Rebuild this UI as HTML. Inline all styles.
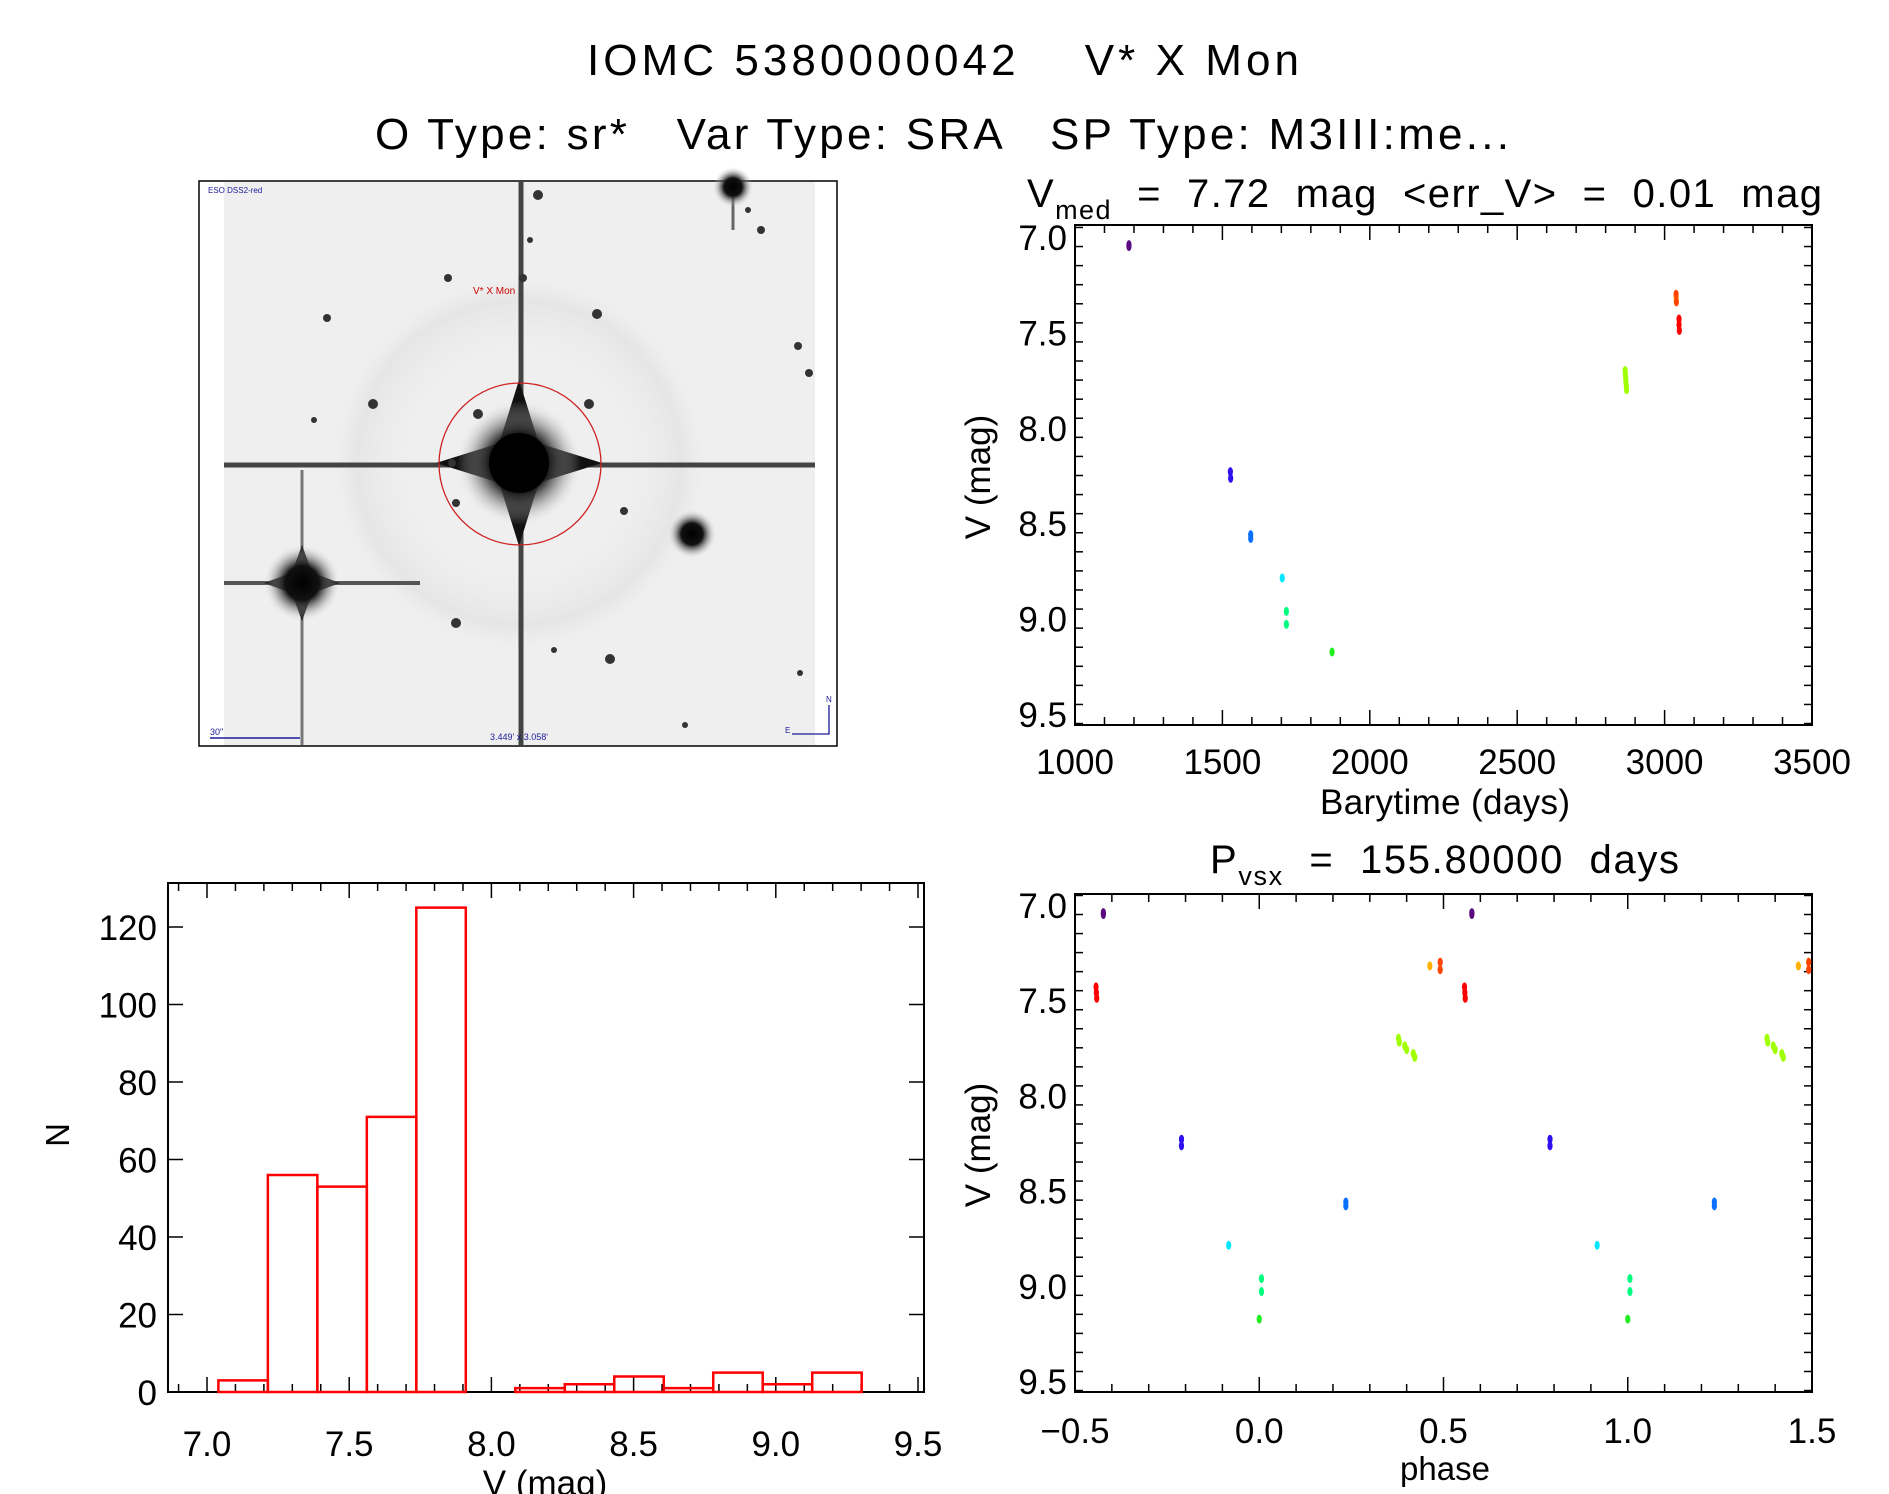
<!DOCTYPE html>
<html><head><meta charset="utf-8"><style>
html,body{margin:0;padding:0;background:#fff;}
svg{display:block;font-family:"Liberation Sans",sans-serif;}
</style></head><body>
<svg id="root" width="1889" height="1494" viewBox="0 0 1889 1494" xmlns="http://www.w3.org/2000/svg">
<defs>
<radialGradient id="star" cx="50%" cy="50%" r="50%"><stop offset="0" stop-color="#000"/><stop offset="0.45" stop-color="#111"/><stop offset="1" stop-color="#ddd" stop-opacity="0"/></radialGradient>
<radialGradient id="halo" cx="50%" cy="50%" r="50%"><stop offset="0.6" stop-color="#e6e6e6" stop-opacity="0"/><stop offset="0.88" stop-color="#dcdcdc" stop-opacity="0.5"/><stop offset="1" stop-color="#e6e6e6" stop-opacity="0"/></radialGradient>
</defs>
<text x="943" y="75" text-anchor="middle" font-size="44" style="white-space:pre" textLength="712">IOMC 5380000042    V* X Mon</text>
<text x="942" y="149" text-anchor="middle" font-size="44" style="white-space:pre" textLength="1134">O Type: sr*   Var Type: SRA   SP Type: M3III:me...</text>

<g>
<rect x="199" y="181" width="638" height="565" fill="#fff" stroke="#000" stroke-width="1.5"/>
<rect x="224" y="182" width="591" height="563" fill="#efefef"/>
<circle cx="519" cy="463" r="185" fill="url(#halo)"/>
<line x1="224" y1="465" x2="815" y2="465" stroke="#444" stroke-width="5"/>
<line x1="521" y1="182" x2="521" y2="745" stroke="#444" stroke-width="5"/>
<line x1="224" y1="583" x2="420" y2="583" stroke="#555" stroke-width="4"/>
<line x1="302" y1="470" x2="302" y2="745" stroke="#777" stroke-width="3"/>
<line x1="733" y1="182" x2="733" y2="230" stroke="#666" stroke-width="3"/>
<path d="M519 380 L545 463 L519 546 L493 463 Z" fill="#111"/>
<path d="M436 463 L519 437 L602 463 L519 489 Z" fill="#111"/>
<circle cx="519" cy="463" r="62" fill="url(#star)"/>
<circle cx="519" cy="463" r="30" fill="#000"/>
<path d="M302 545 L316 583 L302 621 L288 583 Z" fill="#111"/>
<path d="M264 583 L302 569 L340 583 L302 597 Z" fill="#111"/>
<circle cx="302" cy="583" r="38" fill="url(#star)"/>
<circle cx="692" cy="534" r="24" fill="url(#star)"/>
<circle cx="733" cy="187" r="20" fill="url(#star)"/>
<g fill="#333">
<circle cx="538" cy="195" r="5"/><circle cx="448" cy="278" r="4"/><circle cx="523" cy="278" r="4"/><circle cx="597" cy="314" r="5"/><circle cx="327" cy="318" r="4"/><circle cx="373" cy="404" r="5"/><circle cx="478" cy="414" r="5"/><circle cx="589" cy="404" r="5"/><circle cx="456" cy="503" r="4"/><circle cx="624" cy="511" r="4"/><circle cx="456" cy="623" r="5"/><circle cx="610" cy="659" r="5"/><circle cx="761" cy="230" r="4"/><circle cx="798" cy="346" r="4"/><circle cx="809" cy="373" r="4"/><circle cx="748" cy="210" r="3"/><circle cx="685" cy="725" r="3"/><circle cx="530" cy="240" r="3"/><circle cx="452" cy="463" r="4"/><circle cx="554" cy="650" r="3"/><circle cx="314" cy="420" r="3"/><circle cx="800" cy="673" r="3"/>
</g>
<circle cx="520" cy="464" r="81" fill="none" stroke="#cc2222" stroke-width="1.3"/>
<text x="473" y="294" font-size="10" fill="#c00">V* X Mon</text>
<text x="208" y="193" font-size="8" fill="#1a1a99">ESO DSS2-red</text>
<line x1="210" y1="738" x2="300" y2="738" stroke="#1a1a99" stroke-width="1.5"/>
<text x="210" y="735" font-size="9" fill="#1a1a99">30"</text>
<text x="490" y="740" font-size="9" fill="#1a1a99">3.449' x 3.058'</text>
<path d="M792 734 L829 734 L829 705" fill="none" stroke="#1a1a99" stroke-width="1.3"/>
<text x="826" y="702" font-size="8" fill="#1a1a99">N</text>
<text x="785" y="733" font-size="8" fill="#1a1a99">E</text>
</g>

<g id="lc"></g>
<g id="ph"></g>
<g id="hist"></g>
</svg>
<script>
// light curve data
const lcTime  = [1183,1183,1527,1528,1596,1596,1703,1717,1717,1872,2866,2867,2868,2869,2870,2871,3039,3039,3040,3049,3049,3050];
const lcPhase = [0.577,0.577,-0.211,-0.211,0.235,0.235,-0.083,0.006,0.006,0.0,0.378,0.380,0.395,0.400,0.418,0.422,0.463,0.491,0.491,0.557,0.558,0.559];
const lcMag   = [7.04,7.05,8.23,8.265,8.56,8.58,8.787,8.962,9.03,9.175,7.70,7.72,7.74,7.76,7.78,7.80,7.32,7.30,7.34,7.43,7.46,7.49];
const lcColor = ['#5a0a80','#5a0a80','#3010f0','#3010f0','#0a70ff','#0a70ff','#00e8ff','#00ff80','#00ff80','#20f020','#a0ff00','#a0ff00','#a0ff00','#a0ff00','#a0ff00','#a0ff00','#ffb000','#ff4500','#ff4500','#ff0000','#ff0000','#ff0000'];
// histogram data
const binStart = 7.04;
const binWidth = 0.174;
const binCounts = [3,56,53,71,125,0,1,2,4,1,5,2,5];
const lcXTicks = [1000,1500,2000,2500,3000,3500];
const magTicks = [7.0,7.5,8.0,8.5,9.0,9.5];
const phXTicks = [-0.5,0.0,0.5,1.0,1.5];
const histXTicks = [7.0,7.5,8.0,8.5,9.0,9.5];
const histYTicks = [0,20,40,60,80,100,120];

const NS='http://www.w3.org/2000/svg';
function mk(parent,tag,attrs,text){const e=document.createElementNS(NS,tag);for(const k in attrs)e.setAttribute(k,attrs[k]);if(text!==undefined)e.textContent=text;parent.appendChild(e);return e;}
function lin(d0,d1,r0,r1){return v=>r0+(v-d0)*(r1-r0)/(d1-d0);}

function frame(g,L,R,T,B,xs,ys,xMajor,xMinorStep,xMin,xMax,yMajor,yMinorStep,yMin,yMax){
  const box=mk(g,'rect',{x:L,y:T,width:R-L,height:B-T,fill:'none',stroke:'#000','stroke-width':2});
  
  
  for(let v=xMin;v<=xMax+1e-9;v+=xMinorStep){const x=xs(v);const maj=xMajor.some(m=>Math.abs(m-v)<1e-6);const len=maj?15:8;
    mk(g,'line',{x1:x,y1:B,x2:x,y2:B-len,stroke:'#000','stroke-width':1.5});mk(g,'line',{x1:x,y1:T,x2:x,y2:T+len,stroke:'#000','stroke-width':1.5});}
  for(let v=yMin;v<=yMax+1e-9;v+=yMinorStep){const y=ys(v);const maj=yMajor.some(m=>Math.abs(m-v)<1e-6);const len=maj?15:8;
    mk(g,'line',{x1:L,y1:y,x2:L+len,y2:y,stroke:'#000','stroke-width':1.5});mk(g,'line',{x1:R,y1:y,x2:R-len,y2:y,stroke:'#000','stroke-width':1.5});}
}

// ---- light curve ----
(function(){
  const g=document.getElementById('lc');
  const L=1075,R=1812,T=225,B=725;
  const xs=lin(1000,3500,L,R), ys=lin(7.0,9.5,237,714);
  frame(g,L,R,T,B,xs,ys,lcXTicks,100,1000,3500,magTicks,0.1,6.95,9.55);
  lcXTicks.forEach(v=>{const t=mk(g,'text',{x:xs(v),y:774,'text-anchor':'middle','font-size':35},String(v));
    
    });
  magTicks.forEach(v=>{const t=mk(g,'text',{x:1067,y:ys(v)+13,'text-anchor':'end','font-size':35},v.toFixed(1));
    
    });
  const tt=mk(g,'text',{x:1027,y:207,'font-size':40,textLength:795,style:'white-space:pre'});
  
  
  tt.innerHTML='V<tspan font-size="27" dy="12">med</tspan><tspan dy="-12">  =  7.72  mag  &lt;err_V&gt;  =  0.01  mag</tspan>';
  const xt=mk(g,'text',{x:1445,y:814,'text-anchor':'middle','font-size':35,textLength:250},'Barytime (days)');
  
  
  const yt=mk(g,'text',{x:0,y:0,'text-anchor':'middle','font-size':35,transform:'translate(990,477) rotate(-90)'},'V (mag)');
  
  
  lcTime.forEach((t,i)=>{const p=mk(g,'ellipse',{cx:xs(t),cy:ys(lcMag[i]),rx:2.6,ry:4.5,fill:lcColor[i]});
    
    });
})();

// ---- phase plot ----
(function(){
  const g=document.getElementById('ph');
  const L=1075,R=1812,T=894,B=1392;
  const xs=lin(-0.5,1.5,L,R), ys=lin(7.0,9.5,905,1381);
  frame(g,L,R,T,B,xs,ys,phXTicks,0.1,-0.5,1.5,magTicks,0.1,6.95,9.55);
  phXTicks.forEach(v=>{const t=mk(g,'text',{x:xs(v),y:1443,'text-anchor':'middle','font-size':35},(v<0?'\u2212':'')+Math.abs(v).toFixed(1));
    
    });
  magTicks.forEach(v=>{const t=mk(g,'text',{x:1067,y:ys(v)+13,'text-anchor':'end','font-size':35},v.toFixed(1));
    
    });
  const tt=mk(g,'text',{x:1210,y:873,'font-size':40,textLength:469,style:'white-space:pre'});
  
  
  tt.innerHTML='P<tspan font-size="27" dy="12">vsx</tspan><tspan dy="-12">  =  155.80000  days</tspan>';
  const xt=mk(g,'text',{x:1445,y:1480,'text-anchor':'middle','font-size':33},'phase');
  
  
  const yt=mk(g,'text',{x:0,y:0,'text-anchor':'middle','font-size':35,transform:'translate(990,1145) rotate(-90)'},'V (mag)');
  
  
  lcPhase.forEach((ph,i)=>{[-1,0,1].forEach(k=>{const p=ph+k;if(p<-0.5||p>1.5)return;
    const e=mk(g,'ellipse',{cx:xs(p),cy:ys(lcMag[i]),rx:2.6,ry:4.5,fill:lcColor[i]});
    
    });});
})();

// ---- histogram ----
(function(){
  const g=document.getElementById('hist');
  const L=168,R=924,T=883,B=1392;
  const xs=lin(7.0,9.5,207,918), ys=lin(0,120,1392,927);
  frame(g,L,R,T,B,xs,ys,histXTicks,0.1,6.9,9.5,histYTicks,20,0,120);
  binCounts.forEach((c,i)=>{const x0=xs(binStart+i*binWidth),x1=xs(binStart+(i+1)*binWidth);
    const r=mk(g,'rect',{x:x0,y:ys(c),width:x1-x0,height:ys(0)-ys(c),fill:'none',stroke:'#ff0000','stroke-width':2.5});
    
    });
  histXTicks.forEach(v=>{const t=mk(g,'text',{x:xs(v),y:1456,'text-anchor':'middle','font-size':35},v.toFixed(1));
    
    });
  histYTicks.forEach(v=>{const t=mk(g,'text',{x:157,y:ys(v)+13,'text-anchor':'end','font-size':35},String(v));
    
    });
  const xt=mk(g,'text',{x:545,y:1495,'text-anchor':'middle','font-size':35},'V (mag)');
  
  
  const yt=mk(g,'text',{x:0,y:0,'text-anchor':'middle','font-size':33,transform:'translate(69,1135) rotate(-90)'},'N');
  
  
})();
</script>
</body></html>
